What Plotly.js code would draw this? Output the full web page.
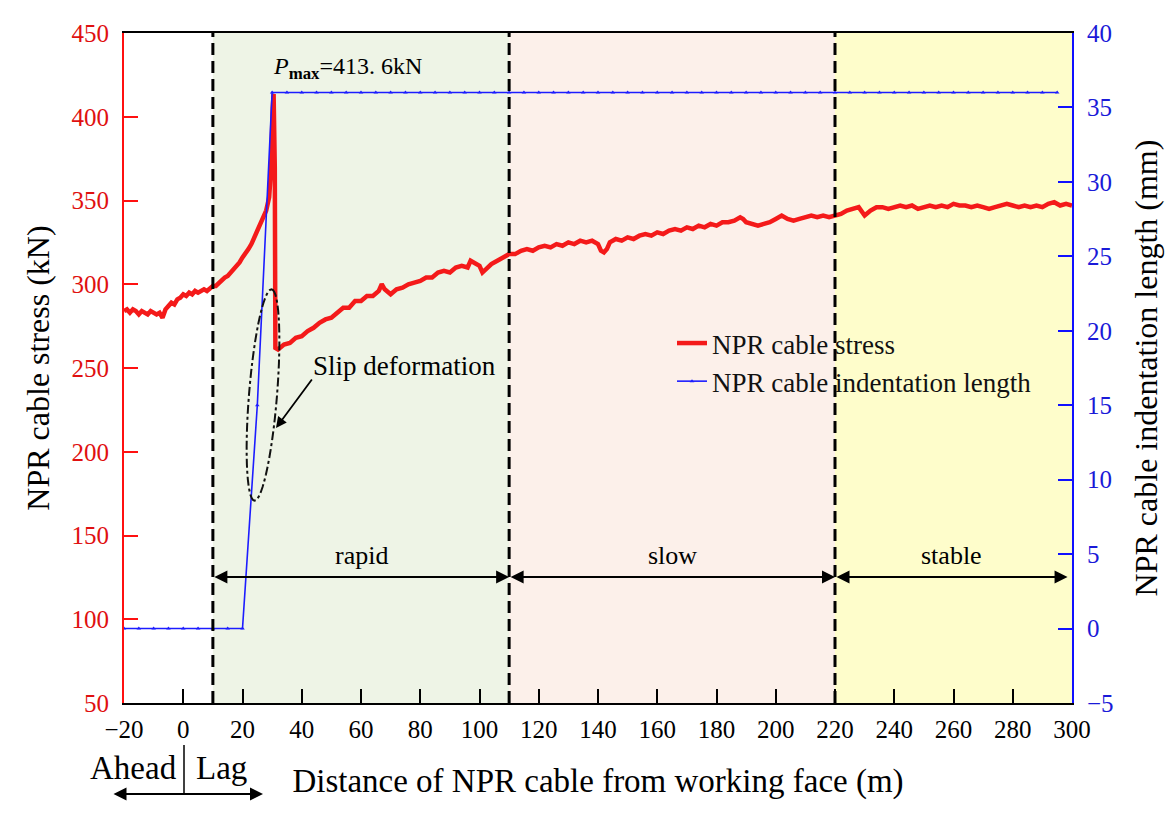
<!DOCTYPE html>
<html><head><meta charset="utf-8">
<script src="https://cdn.plot.ly/plotly-3.0.1.min.js"></script>
<style>html,body{margin:0;padding:0;background:#fff}</style>
</head><body>
<div id="chart" style="width:1169px;height:829px"></div>
<script>
// ---- data ----
const stressX = [-20,-19,-18,-17,-16,-15,-14,-13,-12,-11,-10,-9,-8,-7,-6,-5,-4,-3,-2,-1,0,1,2,3,4,5,6,7,8,9,10,11,12,13,14,15,16,17,18,19,20,21,22,23,24,25,26,27,28,29,29.6,30.2,30.5,30.9,31.1,
  32,34,36,38,40,42,44,46,48,50,52,54,56,58,60,62,64,66,67,68,70,72,74,76,78,80,82,84,86,88,90,92,94,96,97,98,100,101,102,104,106,108,110,
  112,114,116,118,120,122,124,126,128,130,132,134,136,138,140,141,142,143,144,146,148,150,152,154,156,158,160,162,164,166,168,170,172,174,176,178,180,
  182,184,186,188,189,190,192,194,196,198,200,202,204,206,208,210,212,214,216,218,220,222,224,226,228,230,232,234,236,238,240,242,244,246,248,250,
  252,254,256,258,260,262,264,266,268,270,272,274,276,278,280,282,284,286,288,290,292,294,296,298,300];
const stressY = [284,285,283,285,284,282,284,283,282,284,283,282,283,280,285,287,289,288,291,292,294,293,295,294,296,295,296,297,296,298,299,299,301,302,304,305,307,308,311,313,316,318,321,324,328,331,336,339,344,352,368,405,413.6,370,262,
  261,264,265,268,269,272,274,277,279,280,283,286,286,290,290,293,293,296,300,297,294,297,298,300,301,302,304,304,307,308,307,310,311,310,314,313,311,307,309,312,314,316,318,
  318,320,321,320,322,323,322,324,323,325,324,326,325,326,324,320,319,321,325,327,326,328,327,329,330,329,331,330,332,333,332,334,333,335,334,336,335,
  337,337,338,340,339,337,336,335,336,337,339,341,339,338,339,340,341,340,341,340,341,342,344,345,346,341,344,346,346,345,346,347,346,347,345,346,
  347,346,347,346,348,347,347,346,347,346,345,346,347,348,347,346,347,346,347,346,348,349,347,348,347];

const indentX = [-20,-15,-10,-5,0,5,10,15,20,25,30,35,40,45,50,55,60,65,70,75,80,85,90,95,100,105,110,115,120,125,130,135,140,145,150,155,160,165,170,175,180,185,190,195,200,205,210,215,220,225,230,235,240,245,250,255,260,265,270,275,280,285,290,295];
const indentY = [0,0,0,0,0,0,0,0,0,15,36,36,36,36,36,36,36,36,36,36,36,36,36,36,36,36,36,36,36,36,36,36,36,36,36,36,36,36,36,36,36,36,36,36,36,36,36,36,36,36,36,36,36,36,36,36,36,36,36,36,36,36,36,36];

const xTickVals = [-20,0,20,40,60,80,100,120,140,160,180,200,220,240,260,280,300];
const leftTickVals = [50,100,150,200,250,300,350,400,450];
const rightTickVals = [-5,0,5,10,15,20,25,30,35,40];
const stageBounds = [10,110,220,300];
const stageNames = ['rapid','slow','stable'];
const stageColors = ['#eef4e6','#fcf0ea','#fefdcb'];
const pMax = 413.6;

// ---- helpers for decoration placement (pixel -> data) ----
const L=124, R=1072, T=33, B=703;
const px2x = p => -20 + (p-L)/(R-L)*320;
const py2s = p => 450 - (p-T)/(B-T)*400;
const px2p = p => (p-L)/(R-L);
const py2p = p => (B-p)/(B-T);

const FONT = 'Liberation Serif';

function ellipsePath(cx, cy, a, b, ux, uy){
  const n = Math.hypot(ux,uy); ux/=n; uy/=n;
  const vx = -uy, vy = ux;
  let s = '';
  for (let i=0;i<=60;i++){
    const t = i/60*2*Math.PI;
    const px = cx + a*Math.cos(t)*ux + b*Math.sin(t)*vx;
    const py = cy + a*Math.cos(t)*uy + b*Math.sin(t)*vy;
    s += (i===0?'M':'L') + px2x(px).toFixed(3) + ',' + py2s(py).toFixed(3);
  }
  return s + 'Z';
}

const shapes = [];
for (let i=0;i<3;i++){
  shapes.push({type:'rect', xref:'x', yref:'paper', x0:stageBounds[i], x1:stageBounds[i+1], y0:0, y1:1,
    fillcolor:stageColors[i], line:{width:0}, layer:'below'});
}
for (let i=0;i<3;i++){
  shapes.push({type:'line', xref:'x', yref:'paper', x0:stageBounds[i], x1:stageBounds[i], y0:0, y1:1,
    line:{color:'#000', width:3, dash:'12px,6px'}, layer:'above'});
}
shapes.push({type:'path', xref:'x', yref:'y', path: ellipsePath(263, 395, 106, 14, 17, -210),
  line:{color:'#111', width:2, dash:'dashdot'}, layer:'above'});
shapes.push({type:'line', xref:'paper', yref:'paper', x0:px2p(184), x1:px2p(184), y0:py2p(745), y1:py2p(794),
  line:{color:'#000', width:1.5}});

const annotations = [];
annotations.push({xref:'x', yref:'y', x:px2x(271), y:py2s(68), xanchor:'left', yanchor:'middle', showarrow:false,
  text:'<i>P</i><sub><b>max</b></sub>=' + pMax.toFixed(1).replace('.', '. ') + 'kN', font:{family:FONT, size:24, color:'#000'}});
annotations.push({xref:'x', yref:'y', x:px2x(311), y:py2s(366), xanchor:'left', yanchor:'middle', showarrow:false,
  text:'Slip deformation', font:{family:FONT, size:27, color:'#000'}});
annotations.push({xref:'x', yref:'y', axref:'x', ayref:'y', x:px2x(276), y:py2s(428), ax:px2x(313), ay:py2s(378),
  text:'', showarrow:true, arrowhead:2, arrowsize:1.2, arrowwidth:1.8, arrowcolor:'#000'});
const stageArrowY = py2s(577), stageLabelY = py2s(555);
const stageEnds = [[10,110],[110,220],[220,298.5]];
for (let i=0;i<3;i++){
  annotations.push({xref:'x', yref:'y', axref:'x', ayref:'y', x:stageEnds[i][1], y:stageArrowY, ax:stageEnds[i][0], ay:stageArrowY,
    text:'', showarrow:true, arrowhead:2, arrowside:'end+start', arrowsize:1.3, arrowwidth:2, arrowcolor:'#000'});
  annotations.push({xref:'x', yref:'y', x:(stageEnds[i][0]+stageEnds[i][1])/2, y:stageLabelY, xanchor:'center', yanchor:'middle', showarrow:false,
    text:stageNames[i], font:{family:FONT, size:26, color:'#000'}});
}
annotations.push({xref:'paper', yref:'paper', x:px2p(133), y:py2p(768), xanchor:'center', yanchor:'middle', showarrow:false, text:'Ahead',
  font:{family:FONT, size:33, color:'#000'}});
annotations.push({xref:'paper', yref:'paper', x:px2p(221), y:py2p(768), xanchor:'center', yanchor:'middle', showarrow:false, text:'Lag',
  font:{family:FONT, size:33, color:'#000'}});
annotations.push({xref:'paper', yref:'paper', axref:'paper', ayref:'paper', x:px2p(263), y:py2p(794), ax:px2p(112), ay:py2p(794),
  text:'', showarrow:true, arrowhead:2, arrowside:'end+start', arrowsize:1.3, arrowwidth:2, arrowcolor:'#000'});

const traces = [
  {x:stressX, y:stressY, type:'scatter', mode:'lines', name:'NPR cable stress',
   line:{color:'#f41a1a', width:4.5}, yaxis:'y'},
  {x:indentX, y:indentY, type:'scatter', mode:'lines+markers', name:'NPR cable indentation length',
   line:{color:'#1c1cff', width:1.6}, marker:{symbol:'triangle-up', size:4, color:'#1c1cff'}, yaxis:'y2'}
];

const layout = {
  width:1169, height:829,
  margin:{l:L, r:1169-R, t:T, b:829-B, pad:0},
  paper_bgcolor:'#fff', plot_bgcolor:'#fff',
  font:{family:FONT, color:'#000'},
  showlegend:true,
  legend:{x:px2p(672), y:py2p(319), xanchor:'left', yanchor:'top', bgcolor:'rgba(0,0,0,0)',
    font:{family:FONT, size:27, color:'#111'}, tracegroupgap:0},
  xaxis:{range:[-20,300], tickvals:xTickVals, ticks:'inside', ticklen:14, tickwidth:2, tickcolor:'#000',
    showline:true, linecolor:'#000', linewidth:2, mirror:true, showgrid:false, zeroline:false,
    tickfont:{family:FONT, size:25, color:'#000'}, ticklabelstandoff:3,
    title:{text:'Distance of NPR cable from working face (m)', standoff:27, font:{family:FONT, size:33, color:'#000'}}},
  yaxis:{range:[50,450], tickvals:leftTickVals, ticks:'inside', ticklen:14, tickwidth:2, tickcolor:'#ff1010',
    showline:true, linecolor:'#ff1010', linewidth:2, showgrid:false, zeroline:false, ticklabelstandoff:8,
    tickfont:{family:FONT, size:25, color:'#e01010'},
    title:{text:'NPR cable stress (kN)', font:{family:FONT, size:32, color:'#000'}}},
  yaxis2:{range:[-5,40], tickvals:rightTickVals, overlaying:'y', side:'right', ticks:'inside', ticklen:14, tickwidth:2,
    tickcolor:'#1010ff', showline:true, linecolor:'#1010ff', linewidth:2, showgrid:false, zeroline:false, ticklabelstandoff:8,
    tickfont:{family:FONT, size:25, color:'#1a1ad8'},
    title:{text:'NPR cable indentation length (mm)', standoff:22, font:{family:FONT, size:32, color:'#000'}}},
  shapes:shapes,
  annotations:annotations
};

Plotly.newPlot('chart', traces, layout, {displayModeBar:false, staticPlot:true});
</script>
</body></html>
